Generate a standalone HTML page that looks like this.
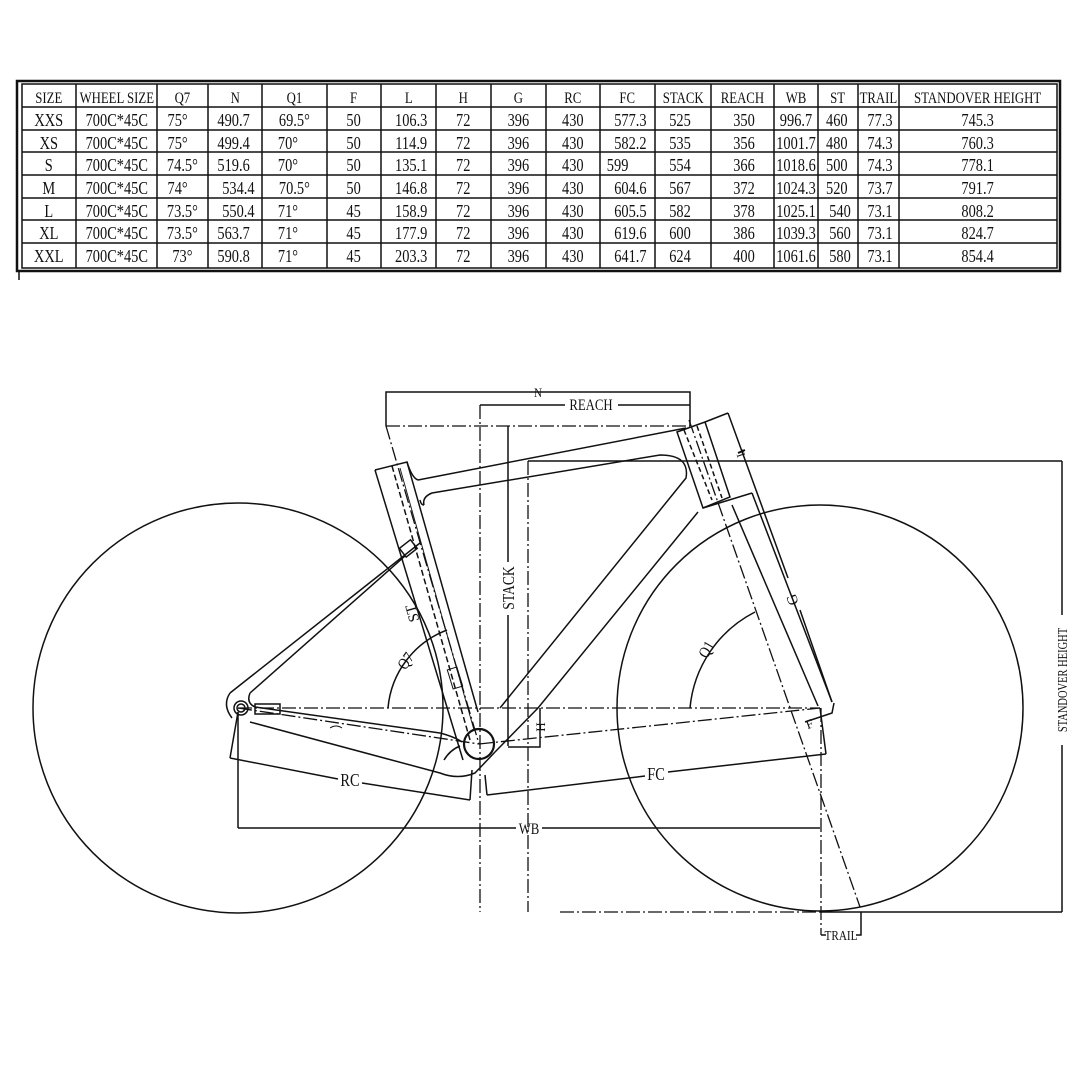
<!DOCTYPE html>
<html><head><meta charset="utf-8"><style>
html,body{margin:0;padding:0;background:#fff}
svg{display:block}
text{font-family:"Liberation Serif",serif;fill:#111}
</style></head><body>
<svg width="1080" height="1080" viewBox="0 0 1080 1080" xmlns="http://www.w3.org/2000/svg">
<rect width="1080" height="1080" fill="#fff"/>
<!-- TABLE -->
<g stroke="#111" fill="none">
<rect x="17" y="81" width="1043" height="190" stroke-width="2.5"/>
<rect x="22" y="84" width="1035" height="184" stroke-width="1.5"/>
<g stroke-width="1.5">
<line x1="22" y1="107" x2="1057" y2="107"/><line x1="22" y1="130" x2="1057" y2="130"/>
<line x1="22" y1="152" x2="1057" y2="152"/><line x1="22" y1="175" x2="1057" y2="175"/>
<line x1="22" y1="198" x2="1057" y2="198"/><line x1="22" y1="220" x2="1057" y2="220"/>
<line x1="22" y1="243" x2="1057" y2="243"/>
<line x1="76" y1="84" x2="76" y2="268"/><line x1="157" y1="84" x2="157" y2="268"/>
<line x1="208" y1="84" x2="208" y2="268"/><line x1="262" y1="84" x2="262" y2="268"/>
<line x1="327" y1="84" x2="327" y2="268"/><line x1="381" y1="84" x2="381" y2="268"/>
<line x1="436" y1="84" x2="436" y2="268"/><line x1="491" y1="84" x2="491" y2="268"/>
<line x1="546" y1="84" x2="546" y2="268"/><line x1="600" y1="84" x2="600" y2="268"/>
<line x1="655" y1="84" x2="655" y2="268"/><line x1="711" y1="84" x2="711" y2="268"/>
<line x1="774" y1="84" x2="774" y2="268"/><line x1="818" y1="84" x2="818" y2="268"/>
<line x1="858" y1="84" x2="858" y2="268"/><line x1="899" y1="84" x2="899" y2="268"/>
</g>
<line x1="19" y1="271" x2="19" y2="280" stroke-width="1.5"/>
</g>
<g font-size="16" text-anchor="middle" transform="scale(0.8,1)">
<text x="61" y="103">SIZE</text><text x="146" y="103">WHEEL SIZE</text><text x="228" y="103">Q7</text>
<text x="294" y="103">N</text><text x="368" y="103">Q1</text><text x="442" y="103">F</text>
<text x="511" y="103">L</text><text x="579" y="103">H</text><text x="648" y="103">G</text>
<text x="716" y="103">RC</text><text x="784" y="103">FC</text><text x="854" y="103">STACK</text>
<text x="928" y="103">REACH</text><text x="995" y="103">WB</text><text x="1047" y="103">ST</text>
<text x="1098" y="103">TRAIL</text><text x="1222" y="103">STANDOVER HEIGHT</text>
</g>
<g font-size="18" text-anchor="middle" transform="scale(0.8,1)">
<g><text x="61" y="126">XXS</text><text x="61" y="149">XS</text><text x="61" y="171">S</text><text x="61" y="194">M</text><text x="61" y="217">L</text><text x="61" y="239">XL</text><text x="61" y="262">XXL</text></g>
<g><text x="146" y="126">700C*45C</text><text x="146" y="149">700C*45C</text><text x="146" y="171">700C*45C</text><text x="146" y="194">700C*45C</text><text x="146" y="217">700C*45C</text><text x="146" y="239">700C*45C</text><text x="146" y="262">700C*45C</text></g>
<g><text x="222" y="126">75°</text><text x="222" y="149">75°</text><text x="228" y="171">74.5°</text><text x="222" y="194">74°</text><text x="228" y="217">73.5°</text><text x="228" y="239">73.5°</text><text x="228" y="262">73°</text></g>
<g><text x="292" y="126">490.7</text><text x="292" y="149">499.4</text><text x="292" y="171">519.6</text><text x="298" y="194">534.4</text><text x="298" y="217">550.4</text><text x="292" y="239">563.7</text><text x="292" y="262">590.8</text></g>
<g><text x="368" y="126">69.5°</text><text x="360" y="149">70°</text><text x="360" y="171">70°</text><text x="368" y="194">70.5°</text><text x="360" y="217">71°</text><text x="360" y="239">71°</text><text x="360" y="262">71°</text></g>
<g><text x="442" y="126">50</text><text x="442" y="149">50</text><text x="442" y="171">50</text><text x="442" y="194">50</text><text x="442" y="217">45</text><text x="442" y="239">45</text><text x="442" y="262">45</text></g>
<g><text x="514" y="126">106.3</text><text x="514" y="149">114.9</text><text x="514" y="171">135.1</text><text x="514" y="194">146.8</text><text x="514" y="217">158.9</text><text x="514" y="239">177.9</text><text x="514" y="262">203.3</text></g>
<g><text x="579" y="126">72</text><text x="579" y="149">72</text><text x="579" y="171">72</text><text x="579" y="194">72</text><text x="579" y="217">72</text><text x="579" y="239">72</text><text x="579" y="262">72</text></g>
<g><text x="648" y="126">396</text><text x="648" y="149">396</text><text x="648" y="171">396</text><text x="648" y="194">396</text><text x="648" y="217">396</text><text x="648" y="239">396</text><text x="648" y="262">396</text></g>
<g><text x="716" y="126">430</text><text x="716" y="149">430</text><text x="716" y="171">430</text><text x="716" y="194">430</text><text x="716" y="217">430</text><text x="716" y="239">430</text><text x="716" y="262">430</text></g>
<g><text x="788" y="126">577.3</text><text x="788" y="149">582.2</text><text x="772" y="171">599</text><text x="788" y="194">604.6</text><text x="788" y="217">605.5</text><text x="788" y="239">619.6</text><text x="788" y="262">641.7</text></g>
<g><text x="850" y="126">525</text><text x="850" y="149">535</text><text x="850" y="171">554</text><text x="850" y="194">567</text><text x="850" y="217">582</text><text x="850" y="239">600</text><text x="850" y="262">624</text></g>
<g><text x="930" y="126">350</text><text x="930" y="149">356</text><text x="930" y="171">366</text><text x="930" y="194">372</text><text x="930" y="217">378</text><text x="930" y="239">386</text><text x="930" y="262">400</text></g>
<g><text x="995" y="126">996.7</text><text x="995" y="149">1001.7</text><text x="995" y="171">1018.6</text><text x="995" y="194">1024.3</text><text x="995" y="217">1025.1</text><text x="995" y="239">1039.3</text><text x="995" y="262">1061.6</text></g>
<g><text x="1046" y="126">460</text><text x="1046" y="149">480</text><text x="1046" y="171">500</text><text x="1046" y="194">520</text><text x="1050" y="217">540</text><text x="1050" y="239">560</text><text x="1050" y="262">580</text></g>
<g><text x="1100" y="126">77.3</text><text x="1100" y="149">74.3</text><text x="1100" y="171">74.3</text><text x="1100" y="194">73.7</text><text x="1100" y="217">73.1</text><text x="1100" y="239">73.1</text><text x="1100" y="262">73.1</text></g>
<g><text x="1222" y="126">745.3</text><text x="1222" y="149">760.3</text><text x="1222" y="171">778.1</text><text x="1222" y="194">791.7</text><text x="1222" y="217">808.2</text><text x="1222" y="239">824.7</text><text x="1222" y="262">854.4</text></g>
</g>

<!-- DIAGRAM -->
<g stroke="#111" fill="none" stroke-width="1.5">
<circle cx="238" cy="708" r="205"/>
<circle cx="820" cy="708" r="203"/>
<circle cx="479" cy="744" r="15" stroke-width="2.2"/>
<g stroke-dasharray="14 3 2 3" stroke-width="1.3">
<line x1="238" y1="708" x2="820" y2="708"/>
<line x1="238" y1="708" x2="479" y2="744"/>
<line x1="479" y1="744" x2="820" y2="708"/>
<line x1="386" y1="426" x2="690" y2="426"/>
<line x1="386" y1="426" x2="479" y2="744"/>
<line x1="480" y1="405" x2="480" y2="912"/>
<line x1="528" y1="461" x2="528" y2="912"/>
<line x1="560" y1="912" x2="820" y2="912"/>
<line x1="821" y1="708" x2="821" y2="935"/>
<line x1="689" y1="420" x2="860" y2="907"/>
</g>
<polyline points="386,426 386,392 690,392 690,426"/>
<line x1="480" y1="405" x2="565" y2="405"/><line x1="618" y1="405" x2="690" y2="405"/>
<line x1="508" y1="426" x2="508" y2="562"/><line x1="508" y1="615" x2="508" y2="746"/>
<line x1="528" y1="461" x2="1062" y2="461"/>
<line x1="1062" y1="461" x2="1062" y2="615"/><line x1="1062" y1="745" x2="1062" y2="912"/>
<line x1="820" y1="912" x2="1062" y2="912"/>
<polyline points="508,747 540,747 540,708"/>
<line x1="238" y1="712" x2="238" y2="828"/>
<line x1="238" y1="828" x2="516" y2="828"/><line x1="542" y1="828" x2="820" y2="828"/>
<line x1="238" y1="712" x2="230" y2="758"/>
<line x1="230" y1="758" x2="338" y2="779"/><line x1="362" y1="783" x2="470" y2="800"/>
<line x1="472" y1="770" x2="470" y2="800"/>
<line x1="485" y1="775" x2="487" y2="795"/>
<line x1="487" y1="795" x2="645" y2="776"/><line x1="668" y1="772" x2="826" y2="754"/>
<line x1="820" y1="708" x2="826" y2="754"/>
<polyline points="821,935 826,935"/><polyline points="856,935 861,935 861,912"/>
<path d="M388,708 A92,92 0 0 1 447,630"/>
<path d="M690,708 A120,120 0 0 1 755,612"/>
<polyline points="375,470 407,462 478,712"/>
<line x1="375" y1="470" x2="463" y2="760"/>
<line x1="392" y1="466" x2="470" y2="740" stroke-dasharray="6 3"/>
<line x1="400" y1="468" x2="474" y2="730" stroke-width="0.9"/>
<path d="M418,480 L686,428"/>
<path d="M407,462 Q412,478 418,480"/>
<path d="M424,505 Q422,497 432,493 L660,455 Q690,455 686,478 L500,708"/>
<path d="M420,500 Q421,505 424,505"/>
<polygon points="677,432 705,422 730,497 703,508"/>
<line x1="684" y1="430" x2="712" y2="500" stroke-dasharray="5 3"/>
<line x1="697" y1="426" x2="722" y2="498" stroke-dasharray="5 3"/>
<line x1="705" y1="422" x2="728" y2="413"/>
<line x1="728" y1="413" x2="788" y2="578"/><line x1="800" y1="610" x2="832" y2="702"/>
<line x1="738" y1="453" x2="745" y2="450" stroke-width="2"/>
<path d="M703,508 L752,493"/>
<path d="M698,512 L538,708 L495,752"/>
<line x1="752" y1="493" x2="832" y2="702"/>
<line x1="732" y1="505" x2="818" y2="706"/>
<polyline points="805,722 832,713 834,703"/>
<line x1="420" y1="543" x2="230" y2="693"/>
<line x1="405" y1="556" x2="250" y2="693"/>
<rect x="401" y="543" width="14" height="11" transform="rotate(-38 408 548)"/>
<path d="M230,693 Q222,705 232,718"/>
<path d="M250,693 Q246,703 255,707"/>
<path d="M255,707 L440,733 Q455,737 462,742"/>
<path d="M250,722 L440,773 Q458,780 475,773 L495,752"/>
<path d="M444,760 Q450,750 460,746"/>
<circle cx="241" cy="708" r="7"/><circle cx="241" cy="708" r="4"/>
<rect x="255" y="704" width="25" height="10"/>
<g stroke-width="1">
<rect x="450" y="668" width="10" height="20" transform="rotate(-17 455 678)"/>
<path d="M330,728 q6,-4 12,0"/>
</g>
</g>
<g text-anchor="middle">
<text transform="translate(538,397) scale(0.85,1)" font-size="13">N</text>
<text transform="translate(591,410) scale(0.8,1)" font-size="16">REACH</text>
<text transform="translate(514,588) rotate(-90) scale(0.8,1)" font-size="17">STACK</text>
<text transform="translate(1067,680) rotate(-90) scale(0.75,1)" font-size="14">STANDOVER HEIGHT</text>
<text transform="translate(350,786) scale(0.8,1)" font-size="18">RC</text>
<text transform="translate(656,780) scale(0.8,1)" font-size="18">FC</text>
<text transform="translate(529,834) scale(0.8,1)" font-size="16">WB</text>
<text transform="translate(841,940) scale(0.8,1)" font-size="14">TRAIL</text>
<text transform="translate(410,664) rotate(-55) scale(0.85,1)" font-size="16">Q7</text>
<text transform="translate(711,652) rotate(-60) scale(0.85,1)" font-size="16">Q1</text>
<text transform="translate(417,612) rotate(-106)" font-size="15">ST</text>
<text transform="translate(797,598) rotate(-110)" font-size="15">G</text>
<text transform="translate(545,727) rotate(-90)" font-size="13">H</text>
<text transform="translate(811,728) rotate(-20)" font-size="13">F</text>
<text transform="translate(744,452) rotate(-110)" font-size="12">L</text>
</g>
</svg>
</body></html>
